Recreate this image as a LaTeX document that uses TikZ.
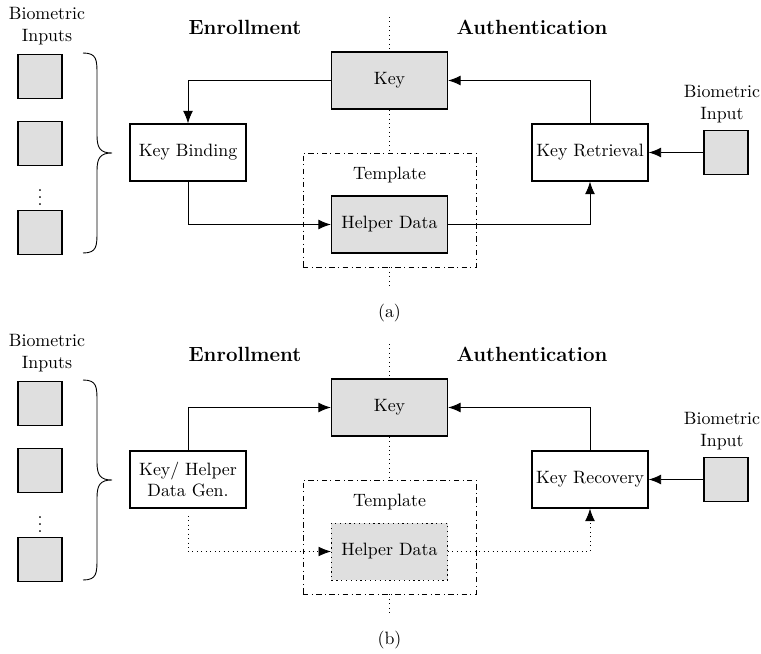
\documentclass[tikz,border=0pt]{standalone}
\usetikzlibrary{arrows.meta}
\definecolor{boxgray}{gray}{0.875}
\begin{document}
\begin{tikzpicture}[x=0.56pt, y=-0.56pt,
    box/.style={draw, line width=0.7pt, minimum width=65pt, minimum height=31.9pt, inner sep=0pt, align=center},
    graybox/.style={box, fill=boxgray},
    inbox/.style={draw, line width=0.7pt, fill=boxgray, minimum size=24.6pt, inner sep=0pt},
    tmplbox/.style={draw, dash dot, line width=0.5pt, minimum width=96.9pt, minimum height=63.8pt, inner sep=0pt},
    conn/.style={line width=0.5pt, -{Latex[length=7pt, width=5.5pt]}},
    dconn/.style={conn, dotted},
    head/.style={font=\fontsize{11.5}{14}\selectfont\bfseries},
    midline/.style={dotted, line width=0.5pt}]
  \useasboundingbox (0,0) rectangle (761,654);
  % (a) key binding
  \node[align=center] (labinA) at (47,26) {Biometric\\Inputs};
  \node[inbox] (inA1) at (40,76.5) {};
  \node[inbox] (inA2) at (40,143.5) {};
  \node[inner sep=0pt] (dotsA) at (40,192) {$\vdots$};
  \node[inbox] (inA3) at (40,232.5) {};
  \draw[line width=0.5pt] (83,53) .. controls (97,53) and (97,60) .. (97,75) -- (97,135)
    .. controls (97,148) and (100,153) .. (112,153) .. controls (100,153) and (97,158) .. (97,171)
    -- (97,231) .. controls (97,246) and (97,253) .. (83,253);
  \node[head] (enrA) at (245,27) {Enrollment};
  \node[head] (authA) at (532,27) {Authentication};
  \node[graybox] (keyA) at (389.5,80.5) {Key};
  \node[box] (bindA) at (188,152.5) {Key Binding};
  \node[tmplbox] (tmplA) at (389.5,210) {};
  \node (tlabA) at (389.5,175) {Template};
  \node[graybox] (helpA) at (389.5,224.5) {Helper Data};
  \node[box] (retrA) at (590,152.5) {Key Retrieval};
  \node[align=center] (labbioA) at (722,104) {Biometric\\Input};
  \node[inbox] (bioA) at (726,152.5) {};
  \coordinate (topA) at (389.5,17);
  \coordinate (botA) at (389.5,289);
  \draw[midline] (topA) -- (keyA.north);
  \draw[midline] (keyA.south) -- (tmplA.north);
  \draw[midline] (tmplA.south) -- (botA);
  \draw[conn] (keyA.west) -| (bindA.north);
  \draw[conn] (bindA.south) |- (helpA.west);
  \draw[conn] (retrA.north) |- (keyA.east);
  \draw[conn] (helpA.east) -| (retrA.south);
  \draw[conn] (bioA.west) -- (retrA.east);
  \node (capA) at (389.5,313) {(a)};
  % (b) key generation
  \node[align=center] (labinB) at (47,353) {Biometric\\Inputs};
  \node[inbox] (inB1) at (40,403.5) {};
  \node[inbox] (inB2) at (40,470.5) {};
  \node[inner sep=0pt] (dotsB) at (40,519) {$\vdots$};
  \node[inbox] (inB3) at (40,559.5) {};
  \draw[line width=0.5pt] (83,380) .. controls (97,380) and (97,387) .. (97,402) -- (97,462)
    .. controls (97,475) and (100,480) .. (112,480) .. controls (100,480) and (97,485) .. (97,498)
    -- (97,558) .. controls (97,573) and (97,580) .. (83,580);
  \node[head] (enrB) at (245,354) {Enrollment};
  \node[head] (authB) at (532,354) {Authentication};
  \node[graybox] (keyB) at (389.5,407.5) {Key};
  \node[box] (genB) at (188,479.5) {Key/ Helper\\Data Gen.};
  \node[tmplbox] (tmplB) at (389.5,537) {};
  \node (tlabB) at (389.5,502) {Template};
  \node[graybox, dotted, line width=0.5pt] (helpB) at (389.5,551.5) {Helper Data};
  \node[box] (recB) at (590,479.5) {Key Recovery};
  \node[align=center] (labbioB) at (722,431) {Biometric\\Input};
  \node[inbox] (bioB) at (726,479.5) {};
  \coordinate (topB) at (389.5,344);
  \coordinate (botB) at (389.5,616);
  \draw[midline] (topB) -- (keyB.north);
  \draw[midline] (keyB.south) -- (tmplB.north);
  \draw[midline] (tmplB.south) -- (botB);
  \draw[conn] (genB.north) |- (keyB.west);
  \draw[dconn, shorten <=4pt] (genB.south) |- (helpB.west);
  \draw[conn] (recB.north) |- (keyB.east);
  \draw[dconn] (helpB.east) -| (recB.south);
  \draw[conn] (bioB.west) -- (recB.east);
  \node (capB) at (389.5,640) {(b)};
\end{tikzpicture}
\end{document}
